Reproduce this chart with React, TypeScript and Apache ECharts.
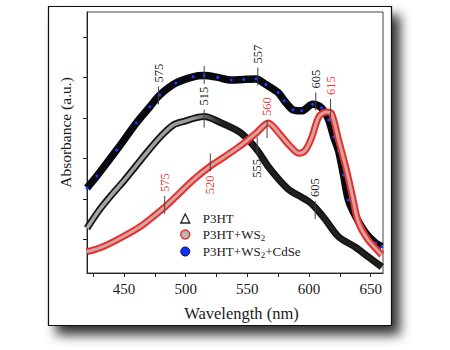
import React, { useEffect, useRef } from "react";
import * as echarts from "echarts";

const FONT = "Liberation Serif";

// P3HT
const p3htNm = [420, 430, 440, 450, 460, 470, 480, 490, 500, 508, 515, 529, 543, 551, 559, 567, 576, 584, 592, 600, 605, 613, 624, 638, 648, 659];
const p3htAbs = [0.255, 0.345, 0.42, 0.49, 0.565, 0.64, 0.71, 0.765, 0.785, 0.8, 0.807, 0.775, 0.733, 0.691, 0.633, 0.559, 0.493, 0.444, 0.415, 0.386, 0.358, 0.3, 0.213, 0.16, 0.114, 0.064];

// P3HT+WS2
const ws2Nm = [420, 433, 449, 465, 482, 492, 506, 520, 530, 543, 557, 567, 576, 584, 592, 597, 602, 608, 614, 618, 624, 630, 635, 640, 648, 659];
const ws2Abs = [0.139, 0.164, 0.213, 0.271, 0.354, 0.411, 0.493, 0.562, 0.602, 0.656, 0.724, 0.775, 0.722, 0.665, 0.625, 0.64, 0.7, 0.806, 0.829, 0.824, 0.691, 0.553, 0.419, 0.286, 0.197, 0.123];

// P3HT+WS2+CdSe
const cdseNm = [420, 428, 444, 460, 471, 479, 492, 506, 515, 526, 537, 547, 557, 565, 575, 580, 587, 594, 603, 610, 616, 620, 624, 628, 632, 638, 646, 654, 659];
const cdseAbs = [0.454, 0.513, 0.641, 0.775, 0.855, 0.913, 0.972, 1.003, 1.009, 1.0, 0.987, 0.99, 0.992, 0.965, 0.925, 0.885, 0.84, 0.835, 0.867, 0.85, 0.79, 0.706, 0.636, 0.518, 0.394, 0.312, 0.232, 0.182, 0.164];

const xTicks = [425, 450, 475, 500, 525, 550, 575, 600, 625, 650];
const xLabels = [450, 500, 550, 600, 650];
const yTicks = [0.2, 0.4, 0.6, 0.8, 1.0, 1.2];

// peak annotations
const annNm = [478, 515, 558.5, 605.5, 515, 558, 605, 483, 520, 566, 617.5];
const annAbs = [0.911, 1.012, 1.004, 0.881, 0.797, 0.661, 0.345, 0.37, 0.58, 0.745, 0.849];
const annText = ["575", "", "557", "605", "515", "555", "605", "575", "520", "560", "615"];
const annSide = ["up", "up", "up", "up", "up", "down", "up", "up", "down", "up", "up"];
const annRed = [false, false, false, false, false, false, false, true, true, true, true];

const zip = (a: number[], b: number[]) => a.map((v, i) => [v, b[i]]);

export default function App() {
  const ref = useRef<HTMLDivElement>(null);
  useEffect(() => {
    const chart = echarts.init(ref.current!, null, { renderer: "svg" });
    const option: any = {
      animation: false,
      grid: { left: 87, top: 12, right: 67, bottom: 77, show: true, borderColor: "#444", borderWidth: 1, backgroundColor: "transparent" },
      xAxis: {
        type: "value", min: 420, max: 660,
        axisLine: { lineStyle: { color: "#222", width: 1 } },
        axisTick: { customValues: xTicks, length: 4, lineStyle: { color: "#222" } },
        axisLabel: { customValues: xLabels, fontSize: 15, fontFamily: FONT, color: "#1a1a1a", margin: 8 },
        splitLine: { show: false },
      },
      yAxis: {
        type: "value", min: 0.034, max: 1.323,
        axisLine: { show: true, lineStyle: { color: "#222", width: 1 } },
        axisTick: { show: true, customValues: yTicks, length: 4, lineStyle: { color: "#222" } },
        axisLabel: { show: false },
        splitLine: { show: false },
      },
      legend: {
        orient: "vertical", left: 180, top: 212, padding: 0, itemWidth: 9, itemHeight: 9, itemGap: 3,
        data: [
          { name: "P3HT", icon: "triangle", itemStyle: { color: "#fff", borderColor: "#222", borderWidth: 1.3 } },
          { name: "P3HT+WS2", icon: "circle", itemStyle: { color: "#b8b8b8", borderColor: "#e8302a", borderWidth: 1.5 } },
          { name: "P3HT+WS2+CdSe", icon: "circle", itemStyle: { color: "#1030ff", borderColor: "#000830", borderWidth: 1 } },
        ],
        formatter: (n: string) => n.replace("WS2", "WS{sub|2}"),
        textStyle: {
          fontSize: 13, fontFamily: FONT, color: "#1a1a1a", padding: [0, 0, 0, 8],
          rich: { sub: { fontSize: 9, fontFamily: FONT, color: "#1a1a1a", verticalAlign: "bottom", padding: [6, 0, 0, 0] } },
        },
      },
      series: [
        {
          name: "P3HT", type: "line", data: zip(p3htNm, p3htAbs), smooth: 0.3, showSymbol: false, z: 2,
          lineStyle: { width: 7, color: "#141414" },
        },
        {
          name: "p3htcore", type: "line", data: zip(p3htNm, p3htAbs), smooth: 0.3, showSymbol: false, z: 2, silent: true,
          lineStyle: {
            width: 3.5,
            color: new echarts.graphic.LinearGradient(0, 0, 1, 0, [
              { offset: 0, color: "#a8a8a8" }, { offset: 0.36, color: "#9a9a9a" },
              { offset: 0.46, color: "#202020" }, { offset: 1, color: "#202020" },
            ]),
          },
        },
        {
          name: "P3HT+WS2+CdSe", type: "line", data: zip(cdseNm, cdseAbs), smooth: 0.3, z: 3,
          showSymbol: true, symbol: "circle", symbolSize: 3, itemStyle: { color: "#2040ff", borderWidth: 0 },
          lineStyle: { width: 7.5, color: "#08080f" },
        },
        {
          name: "P3HT+WS2", type: "line", data: zip(ws2Nm, ws2Abs), smooth: 0.3, showSymbol: false, z: 4,
          lineStyle: { width: 7, color: "#e8302a" },
        },
        {
          name: "ws2core", type: "line", data: zip(ws2Nm, ws2Abs), smooth: 0.3, showSymbol: false, z: 5, silent: true,
          lineStyle: { width: 3, color: "#d4a4a4" },
        },
      ],
    };
    chart.setOption(option);

    const els: any[] = [
      {
        type: "rect", z: -1, silent: true,
        shape: { x: 48.5, y: 6.5, width: 343, height: 319 },
        style: { fill: "#fff", stroke: "#111", lineWidth: 1.2, shadowBlur: 12, shadowOffsetX: 8, shadowOffsetY: 9, shadowColor: "rgba(0,0,0,0.8)" },
      },
      {
        type: "text", x: 241.5, y: 313, z: 10,
        style: { text: "Wavelength (nm)", fontSize: 16.5, fontFamily: FONT, fill: "#1a1a1a", align: "center", verticalAlign: "middle" },
      },
      {
        type: "text", x: 65, y: 132.5, rotation: Math.PI / 2, z: 10,
        style: { text: "Absorbance (a.u.)", fontSize: 15.5, fontFamily: FONT, fill: "#1a1a1a", align: "center", verticalAlign: "middle" },
      },
    ];
    const half = 9;
    annNm.forEach((nm, i) => {
      const p = chart.convertToPixel({ xAxisIndex: 0, yAxisIndex: 0 }, [nm, annAbs[i]]) as number[];
      els.push({
        type: "line", z: 10, silent: true,
        shape: { x1: p[0], y1: p[1] - half, x2: p[0], y2: p[1] + half },
        style: { stroke: "#444", lineWidth: 1 },
      });
      if (annText[i]) {
        const up = annSide[i] === "up";
        els.push({
          type: "text", z: 10, silent: true,
          x: p[0], y: up ? p[1] - half - 4 : p[1] + half + 4, rotation: Math.PI / 2,
          style: {
            text: annText[i], fontSize: 12.5, fontFamily: FONT,
            fill: annRed[i] ? "#e8413c" : "#222",
            align: up ? "left" : "right", verticalAlign: "middle",
          },
        });
      }
    });
    chart.setOption({ graphic: { elements: els } });
    return () => chart.dispose();
  }, []);
  return <div ref={ref} style={{ position: "absolute", left: 0, top: 0, width: 450, height: 350 }} />;
}
